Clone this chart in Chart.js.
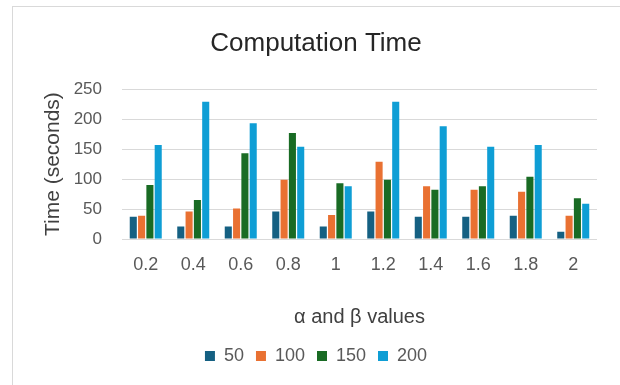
<!DOCTYPE html>
<html>
<head>
<meta charset="utf-8">
<script src="https://cdn.jsdelivr.net/npm/chart.js@4/dist/chart.umd.min.js"></script>
<style>
  html, body { margin: 0; padding: 0; background: #fff; }
  #wrap { position: relative; width: 620px; height: 385px; overflow: hidden; }
  #frame { position: absolute; left: 12px; top: 6px; width: 700px; height: 500px;
           border-top: 1px solid #d9d9d9; border-left: 1px solid #d9d9d9; }
  #chart { position: absolute; left: 0; top: 0; }
</style>
</head>
<body>
<div id="wrap">
  <div id="frame"></div>
  <canvas id="chart" width="620" height="385"></canvas>
</div>
<script>
// values
var categories = ['0.2', '0.4', '0.6', '0.8', '1', '1.2', '1.4', '1.6', '1.8', '2'];
var series50  = [37, 21, 21, 46, 21, 46, 37, 37, 39, 12];
var series100 = [39, 46, 51, 99, 40, 129, 88, 82, 79, 39];
var series150 = [90, 65, 143, 177, 93, 99, 82, 88, 104, 68];
var series200 = [157, 229, 193, 154, 88, 229, 188, 154, 157, 59];
var seriesNames = ['50', '100', '150', '200'];
var seriesColors = ['#156082', '#E97132', '#196B24', '#0F9ED5'];

var fontFamily = '"Liberation Sans", Arial, sans-serif';
var allSeries = [series50, series100, series150, series200];

var datasets = allSeries.map(function (vals, i) {
    return {
        label: seriesNames[i],
        data: vals,
        backgroundColor: seriesColors[i],
        borderWidth: 0,
        categoryPercentage: 0.70,
        barPercentage: 0.85
    };
});

// title and legend are centred on the chart frame (x 12..620), not the canvas
var frameCenter = {
    id: 'frameCenter',
    beforeDraw: function (chart) {
        [chart.titleBlock, chart.legend].forEach(function (b) {
            if (b) { b.left = 12; b.right = 620; }
        });
    }
};

var ctx = document.getElementById('chart').getContext('2d');
var chart = new Chart(ctx, {
    type: 'bar',
    data: { labels: categories, datasets: datasets },
    plugins: [frameCenter],
    options: {
        responsive: false,
        animation: false,
        layout: { padding: { left: 0, right: 23, top: 0, bottom: 10 } },
        plugins: {
            title: {
                display: true,
                text: 'Computation Time',
                color: '#262626',
                font: { family: fontFamily, size: 26, weight: 'normal' },
                padding: { top: 28, bottom: 30 }
            },
            legend: {
                position: 'bottom',
                labels: {
                    color: '#595959',
                    font: { family: fontFamily, size: 18 },
                    boxWidth: 10,
                    boxHeight: 10,
                    padding: 12
                }
            },
            tooltip: { enabled: false }
        },
        scales: {
            x: {
                grid: { display: false, drawTicks: false },
                border: { display: false },
                ticks: {
                    color: '#595959',
                    font: { family: fontFamily, size: 18 },
                    padding: 15,
                    maxRotation: 0
                },
                title: {
                    display: true,
                    text: 'α and β values',
                    color: '#404040',
                    font: { family: fontFamily, size: 20 },
                    padding: { top: 4, bottom: 6 }
                },
                afterFit: function (scale) { scale.height = 96; }
            },
            y: {
                min: 0,
                max: 250,
                grid: { color: '#d9d9d9', lineWidth: 1, drawTicks: false },
                border: { display: false },
                ticks: {
                    stepSize: 50,
                    color: '#595959',
                    font: { family: fontFamily, size: 17 },
                    padding: 20
                },
                title: {
                    display: true,
                    text: 'Time (seconds)',
                    color: '#404040',
                    font: { family: fontFamily, size: 21 },
                    padding: { top: 41, bottom: 4 }
                },
                afterFit: function (scale) { scale.width = 122; }
            }
        }
    }
});
</script>
</body>
</html>
